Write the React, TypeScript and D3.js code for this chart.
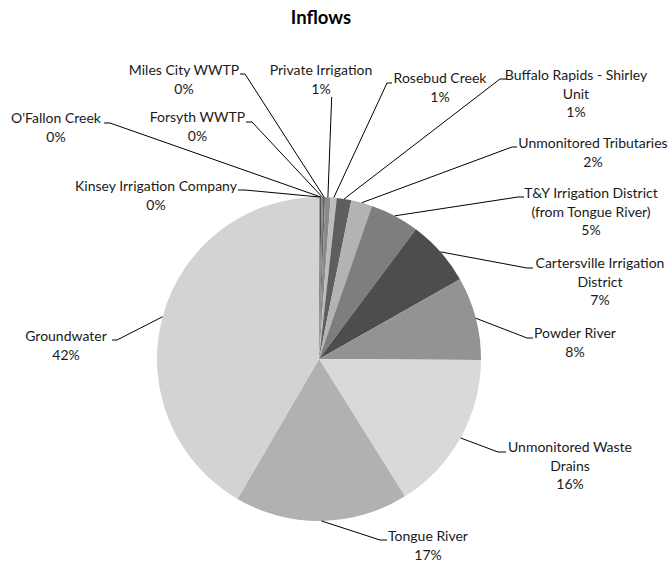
import React from "react";
import * as d3 from "d3";

const categories = [
  "Kinsey Irrigation Company",
  "O'Fallon Creek",
  "Forsyth WWTP",
  "Miles City WWTP",
  "Private Irrigation",
  "Rosebud Creek",
  "Buffalo Rapids - Shirley Unit",
  "Unmonitored Tributaries",
  "T&Y Irrigation District (from Tongue River)",
  "Cartersville Irrigation District",
  "Powder River",
  "Unmonitored Waste Drains",
  "Tongue River",
  "Groundwater",
];

const values = [0.1, 0.15, 0.15, 0.2, 0.55, 0.6, 1.45, 2.1, 4.9, 6.6, 8.3, 16.0, 17.3, 41.6];

const labelLines = [
  ["Kinsey Irrigation Company"],
  ["O'Fallon Creek"],
  ["Forsyth WWTP"],
  ["Miles City WWTP"],
  ["Private Irrigation"],
  ["Rosebud Creek"],
  ["Buffalo Rapids - Shirley", "Unit"],
  ["Unmonitored Tributaries"],
  ["T&Y Irrigation District", "(from Tongue River)"],
  ["Cartersville Irrigation", "District"],
  ["Powder River"],
  ["Unmonitored Waste", "Drains"],
  ["Tongue River"],
  ["Groundwater"],
];

const sliceColors = [
  "#a0a0a0", "#515151", "#7b7b7b", "#666666", "#8a8a8a", "#bcbcbc", "#5e5e5e",
  "#b3b3b3", "#7e7e7e", "#4d4d4d", "#939393", "#d9d9d9", "#b1b1b1", "#d3d3d3",
];

// label layout: [text center x, first line center y, stub x near text, stub x toward pie, stub y]
const labelLayout = [
  [156, 186, 238, 245, 190],
  [56, 118, 104, 110, 123],
  [197.5, 117, 246, 252, 122],
  [184, 70, 240, 245, 74],
  [321, 70, 331.7, 331.7, 97],
  [440, 78, 392, 387, 83],
  [576, 75, 506, 500, 79],
  [593, 143, 517, 512, 147],
  [591, 193, 524, 518, 197],
  [600, 263, 533, 527, 268],
  [575, 333, 533, 527, 338],
  [570, 447, 506, 498, 452],
  [428, 536, 387, 380, 540],
  [66, 336, 112, 117, 340],
];

const W = 670;
const H = 565;
const CX = 319;
const CY = 359;
const R = 162;
const LINE_H = 18.7;

export default function App() {
  const data = categories.map((c, i) => ({ name: c, value: values[i], idx: i }));
  const total = d3.sum(values);
  const pie = d3.pie<any>().value((d: any) => d.value).sort(null).startAngle(0).endAngle(2 * Math.PI);
  const arcs = pie(data);
  const arcGen = d3.arc<any>().innerRadius(0).outerRadius(R);
  const font = "Lato, 'Liberation Sans', sans-serif";

  return (
    <svg width={W} height={H} style={{ position: "absolute", left: 0, top: 0, background: "#fff" }}>
      <text x={321} y={24} textAnchor="middle" fontFamily={font} fontWeight="bold" fontSize={18.5} fill="#000">
        Inflows
      </text>
      <g transform={`translate(${CX},${CY})`}>
        {arcs.map((a: any, i: number) => (
          <path key={i} d={arcGen(a) as string} fill={sliceColors[i]} />
        ))}
      </g>
      {arcs.map((a: any, i: number) => {
        const mid = (a.startAngle + a.endAngle) / 2;
        const px = CX + R * Math.sin(mid);
        const py = CY - R * Math.cos(mid);
        const [tx, ty, sIn, sOut, sy] = labelLayout[i];
        const pts: [number, number][] = [
          [px, py],
          [sOut, sy],
          [sIn, sy],
        ];
        const line = d3.line();
        const pct = Math.round((values[i] / total) * 100) + "%";
        const lines = [...labelLines[i], pct];
        return (
          <g key={"l" + i}>
            <path d={line(pts) as string} fill="none" stroke="#000" strokeWidth={1} />
            <text textAnchor="middle" fontFamily={font} fontSize={14} fill="#1a1a1a">
              {lines.map((t, j) => (
                <tspan key={j} x={tx} y={ty + j * LINE_H} dy="0.35em">
                  {t}
                </tspan>
              ))}
            </text>
          </g>
        );
      })}
    </svg>
  );
}
